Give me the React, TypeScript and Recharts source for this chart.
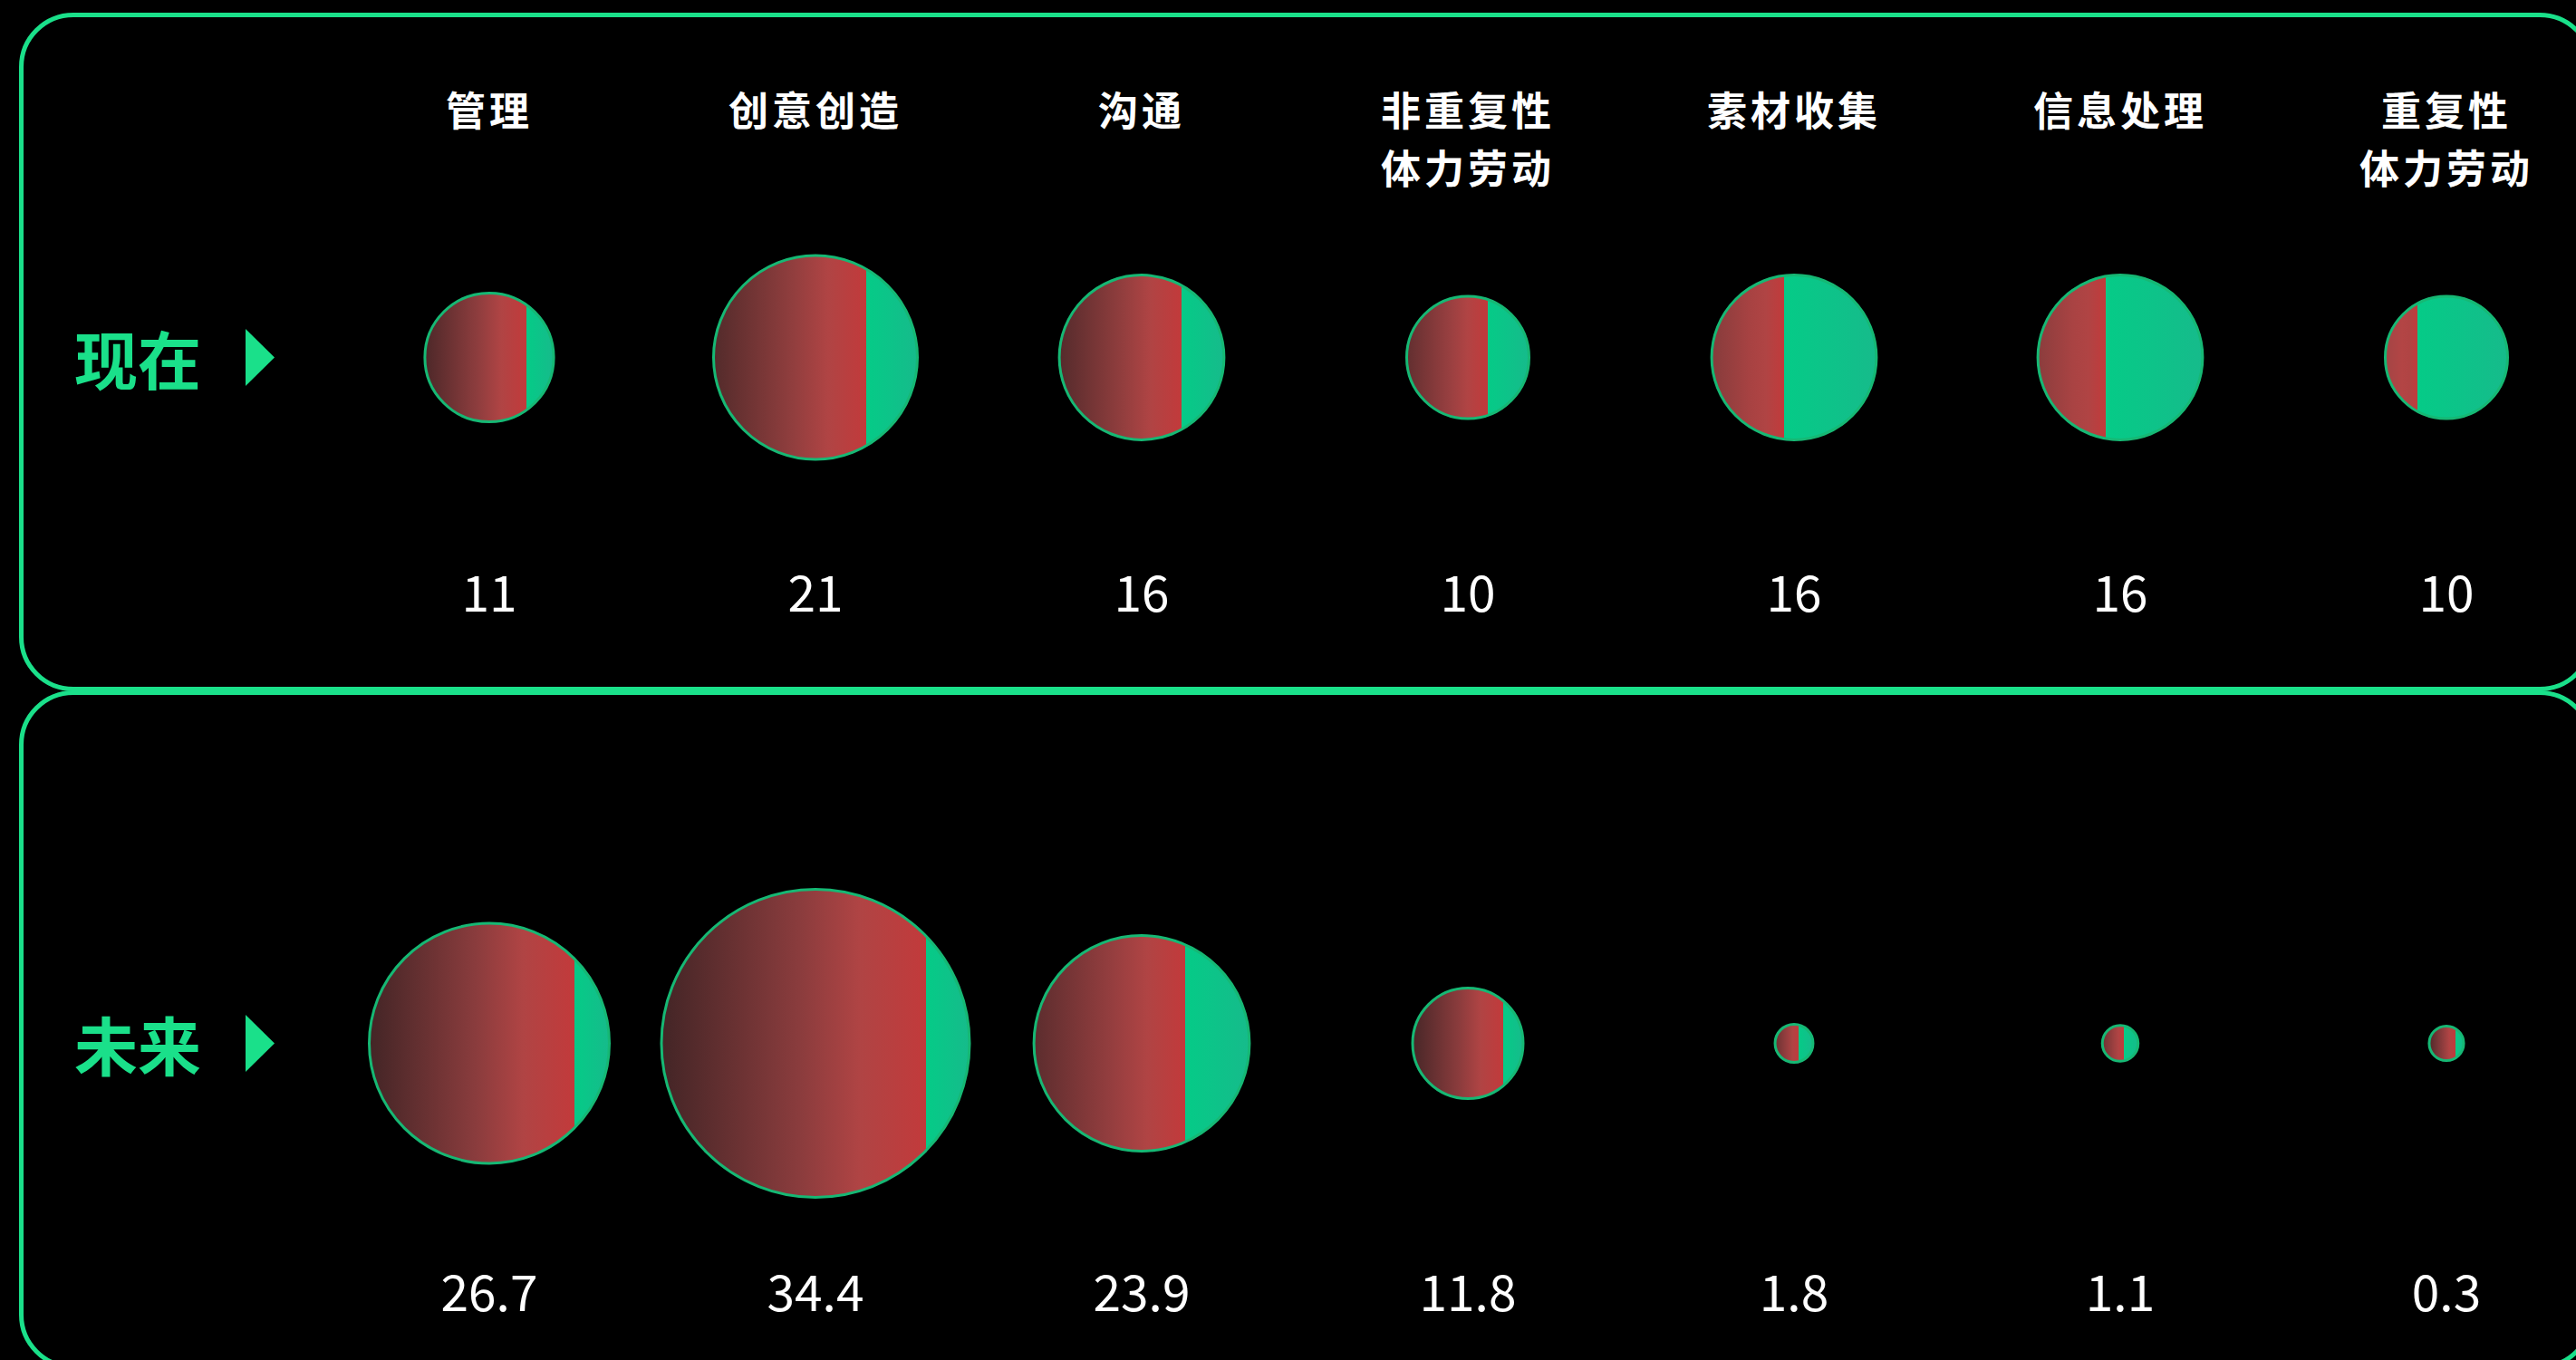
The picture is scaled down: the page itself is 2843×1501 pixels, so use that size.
import React from 'react';
import { ScatterChart, Scatter, XAxis, YAxis, ZAxis } from 'recharts';

// ---------- data ----------
const categories = [
  '管理',
  '创意创造',
  '沟通',
  '非重复性\n体力劳动',
  '素材收集',
  '信息处理',
  '重复性\n体力劳动',
];
const periods = ['现在', '未来'];
const nowValues = [11, 21, 16, 10, 16, 16, 10];
const futureValues = [26.7, 34.4, 23.9, 11.8, 1.8, 1.1, 0.3];
// share of each bubble's width painted red (left part)
const nowRedShare = [0.79, 0.75, 0.74, 0.66, 0.44, 0.41, 0.265];
const futureRedShare = [0.855, 0.86, 0.7, 0.82, 0.62, 0.6, 0.77];

const nowData = categories.map((c, i) => ({
  category: c,
  period: periods[0],
  value: nowValues[i],
  redShare: nowRedShare[i],
  id: `now-${i}`,
}));
const futureData = categories.map((c, i) => ({
  category: c,
  period: periods[1],
  value: futureValues[i],
  redShare: futureRedShare[i],
  id: `future-${i}`,
}));

// ---------- styles ----------
const GREEN = '#1ae08a';
const FONT = '"Noto Sans CJK SC", "Noto Sans", sans-serif';

const hex = (h: string) => [1, 3, 5].map((k) => parseInt(h.slice(k, k + 2), 16));
const lerpColor = (a: string, b: string, t: number) => {
  const ca = hex(a);
  const cb = hex(b);
  const c = ca.map((v, k) => Math.round(v + (cb[k] - v) * t));
  return `rgb(${c[0]},${c[1]},${c[2]})`;
};

const Bubble = (props: any) => {
  const { cx, cy, width, payload, labelOffset } = props;
  if (cx == null || cy == null) return null;
  const r = (width || 0) / 2;
  const s = payload.redShare;
  const id = `grad-${payload.id}`;
  const t = Math.max(0, Math.min(1, (s - 0.25) / 0.6));
  const start = lerpColor('#a54646', '#432526', t);
  const mid = lerpColor('#b44545', '#8a3c3d', t);
  return (
    <g>
      <defs>
        <linearGradient id={id} x1="0" y1="0" x2="1" y2="0">
          <stop offset={0} stopColor={start} />
          <stop offset={s * 0.52} stopColor={mid} />
          <stop offset={s * 0.75} stopColor="#b04444" />
          <stop offset={s} stopColor="#c23a3b" />
          <stop offset={s} stopColor="#05cb87" />
          <stop offset={1} stopColor="#16bb8b" />
        </linearGradient>
      </defs>
      <circle cx={cx} cy={cy} r={r} fill={`url(#${id})`} stroke="#16b874" strokeWidth={3} />
      <text
        x={cx}
        y={cy + labelOffset}
        textAnchor="middle"
        fill="#ffffff"
        fontSize={55}
        fontFamily={FONT}
        fontWeight={400}
      >
        {String(payload.value)}
      </text>
    </g>
  );
};

const CategoryTick = (props: any) => {
  const { x, payload } = props;
  const lines = String(payload.value).split('\n');
  return (
    <g>
      {lines.map((line, i) => (
        <text
          key={i}
          x={x}
          y={139 + i * 64}
          textAnchor="middle"
          fill="#ffffff"
          fontSize={44}
          fontWeight={700}
          fontFamily={FONT}
          style={{ letterSpacing: 4 }}
        >
          {line}
        </text>
      ))}
    </g>
  );
};

const PeriodTick = (props: any) => {
  const { y, payload } = props;
  return (
    <g>
      <text
        x={82}
        y={y}
        dominantBaseline="central"
        fill={GREEN}
        fontSize={70}
        fontWeight={700}
        fontFamily={FONT}
      >
        {payload.value}
      </text>
      <polygon points={`271,${y - 31.5} 303,${y} 271,${y + 31.5}`} fill={GREEN} />
    </g>
  );
};

const panelStyle = (top: number): React.CSSProperties => ({
  position: 'absolute',
  left: 21,
  top,
  width: 2841.5,
  height: 749,
  border: `5px solid ${GREEN}`,
  borderRadius: 60,
  boxSizing: 'border-box',
});

export default function App() {
  return (
    <div
      style={{
        position: 'absolute',
        left: 0,
        top: 0,
        width: 2843,
        height: 1501,
        background: '#000',
        overflow: 'hidden',
      }}
    >
      <div style={panelStyle(13.5)} />
      <div style={panelStyle(761.5)} />
      <div style={{ position: 'absolute', left: 0, top: 0 }}>
        <ScatterChart width={2880} height={1530} margin={{ top: 0, right: 0, bottom: 0, left: 0 }}>
          <XAxis
            type="category"
            dataKey="category"
            orientation="top"
            height={16}
            allowDuplicatedCategory={false}
            axisLine={false}
            tickLine={false}
            interval={0}
            tick={<CategoryTick />}
          />
          <YAxis
            type="category"
            dataKey="period"
            width={360}
            reversed
            allowDuplicatedCategory={false}
            axisLine={false}
            tickLine={false}
            interval={0}
            tick={<PeriodTick />}
          />
          <ZAxis
            zAxisId="now"
            type="number"
            dataKey={(d: any) => d.value * d.value}
            domain={[0, 'dataMax']}
            range={[6852, 39761]}
          />
          <ZAxis
            zAxisId="future"
            type="number"
            dataKey={(d: any) => d.value * d.value}
            domain={[0, 'dataMax']}
            range={[1134, 90792]}
          />
          <Scatter
            data={nowData}
            zAxisId="now"
            isAnimationActive={false}
            shape={(p: any) => <Bubble {...p} labelOffset={280.5} />}
          />
          <Scatter
            data={futureData}
            zAxisId="future"
            isAnimationActive={false}
            shape={(p: any) => <Bubble {...p} labelOffset={295.5} />}
          />
        </ScatterChart>
      </div>
    </div>
  );
}
